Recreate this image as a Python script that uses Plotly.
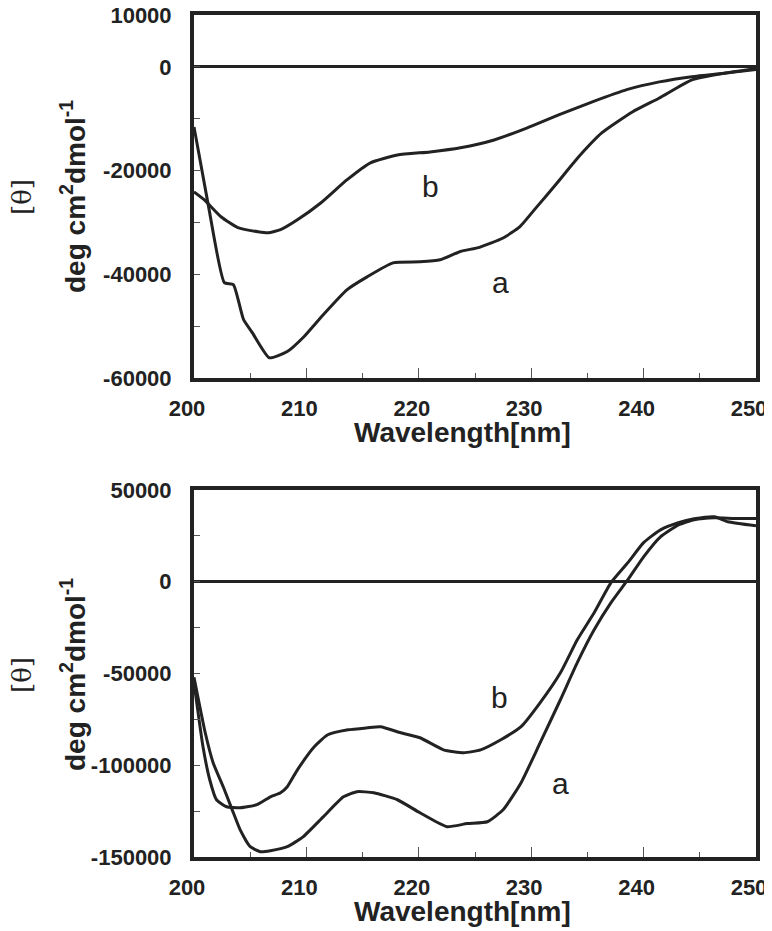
import plotly.graph_objects as go

# ---- data ----
top_wl_a = [200, 201.3, 202.7, 203.5, 204.4, 205.2, 206.7, 208.3, 209.8, 211.5, 213.6, 215.4, 217.7,
            220.1, 221.9, 223.7, 225.4, 227.5, 229.0, 230.5, 232.3, 234.0, 236.3, 239.0, 241.4,
            244.3, 247.3, 250]
top_a = [-11600, -27000, -41600, -42000, -48700, -51300, -56100, -54900, -52000, -47800, -43000,
         -40500, -37800, -37600, -37200, -35600, -34800, -33000, -30800, -27000, -22400, -17900,
         -12700, -8700, -6000, -2500, -1200, -300]

top_wl_b = [200, 200.9, 202.4, 203.9, 205.7, 206.6, 207.7, 209.2, 211.3, 213.6, 215.7, 218.1,
            221.0, 223.7, 226.7, 229.6, 232.5, 235.5, 238.5, 241.4, 244.3, 247.3, 250]
top_b = [-24100, -25600, -28900, -31000, -31800, -32000, -31400, -29500, -26200, -21800, -18500,
         -17000, -16400, -15600, -14100, -11800, -9200, -6700, -4400, -2900, -1900, -1200, -500]

bot_wl_a = [200, 201.0, 201.7, 202.6, 203.4, 204.1, 205.0, 205.9, 206.8, 208.3, 209.7, 211.5,
            213.3, 214.5, 216.0, 218.1, 220.1, 222.5, 224.3, 226.1, 227.5, 229.1, 230.8, 232.6,
            234.1, 235.6, 237.1, 238.6, 240.0, 241.5, 243.1, 244.5, 246.3, 248.1, 250]
bot_a = [-52000, -82300, -98600, -111700, -124300, -135100, -144400, -147100, -146600, -144400,
         -139000, -128100, -117200, -114400, -115000, -118800, -125900, -133500, -131800, -130800,
         -124300, -109500, -87700, -64300, -44100, -26200, -11400, 1100, 13600, 24500, 31000,
         33800, 34900, 34500, 34500]

bot_wl_b = [200, 200.8, 201.4, 202.0, 202.9, 204.1, 205.6, 206.8, 207.7, 208.3, 209.2, 210.7,
            211.9, 213.7, 215.4, 216.6, 218.4, 220.1, 222.2, 224.0, 225.5, 227.3, 229.1, 230.8,
            232.6, 234.1, 235.6, 237.1, 238.6, 240.0, 241.5, 243.1, 244.5, 246.3, 247.5, 250]
bot_b = [-55000, -89900, -107900, -118800, -122600, -123200, -121500, -117200, -115000, -111700,
         -102500, -89900, -83400, -80700, -79600, -79000, -82300, -85000, -91600, -93200, -91600,
         -86100, -79000, -65900, -49600, -31600, -16900, -500, 10400, 21300, 28300, 32200, 34300,
         35400, 32700, 30500]

top_yticks = [-60000, -40000, -20000, 0, 10000]
top_yminor = [-50000, -30000, -10000]
bot_yticks = [-150000, -100000, -50000, 0, 50000]
bot_yminor = [-125000, -75000, -25000, 25000]
x_ticks = [200, 210, 220, 230, 240, 250]

x_title = "Wavelength[nm]"
y_title_1 = "[θ]"
y_title_2 = "deg cm<sup>2</sup>dmol<sup>-1</sup>"

INK = "#222222"
FONT = "Liberation Sans"
OFF = 8                      # default page margin of the html body
W, H = 772 - OFF, 931 - OFF


def px(x):
    return (x - OFF) / W


def py(y):
    return 1 - (y - OFF) / H


fig = go.Figure()
line = dict(color=INK, width=3, shape="spline", smoothing=0.5)
fig.add_trace(go.Scatter(x=top_wl_a, y=top_a, mode="lines", line=line, xaxis="x", yaxis="y", showlegend=False))
fig.add_trace(go.Scatter(x=top_wl_b, y=top_b, mode="lines", line=line, xaxis="x", yaxis="y", showlegend=False))
fig.add_trace(go.Scatter(x=bot_wl_a, y=bot_a, mode="lines", line=line, xaxis="x2", yaxis="y2", showlegend=False))
fig.add_trace(go.Scatter(x=bot_wl_b, y=bot_b, mode="lines", line=line, xaxis="x2", yaxis="y2", showlegend=False))

xdom = [px(194), px(756)]
top_dom = [py(378), py(15)]
bot_dom = [py(857), py(490)]

tickfont = dict(family=FONT, size=22, color=INK, weight="bold")


def xaxis(anchor):
    return dict(domain=xdom, anchor=anchor, range=[200, 250], tickmode="array", tickvals=x_ticks,
                ticks="inside", ticklen=10, tickwidth=1, tickcolor="#555", showgrid=False, zeroline=False,
                showline=True, linewidth=4, linecolor=INK, mirror=True, tickfont=tickfont,
                ticklabelstandoff=8, ticklabelshift=-7, automargin=False, ticklabeloverflow="allow",
                minor=dict(tickmode="array", tickvals=[205, 215, 225, 235, 245], ticks="inside",
                           ticklen=5, tickwidth=1, tickcolor="#555", showgrid=False))


def yaxis(anchor, dom, rng, vals, minor):
    return dict(domain=dom, anchor=anchor, range=rng, tickmode="array", tickvals=vals,
                ticktext=[str(v) for v in vals], ticks="inside", ticklen=6, tickwidth=1, tickcolor="#555",
                showgrid=False, zeroline=True, zerolinewidth=3, zerolinecolor=INK,
                showline=True, linewidth=4, linecolor=INK, mirror=True, tickfont=tickfont,
                ticklabelstandoff=14, automargin=False, ticklabeloverflow="allow",
                minor=dict(tickmode="array", tickvals=minor, ticks="inside", ticklen=6, tickwidth=1,
                           tickcolor="#555", showgrid=False))


title_font = dict(family=FONT, size=28, color=INK, weight="bold")
theta_font = dict(family="DejaVu Serif", size=26, color=INK)
lab_font = dict(family=FONT, size=30, color=INK)

annotations = []
# x titles
for yc in (432, 911):
    annotations.append(dict(text=x_title, x=px(462), y=py(yc), xref="paper", yref="paper",
                            showarrow=False, font=title_font, xanchor="center", yanchor="middle"))
# y titles
for yc in (197, 675):
    annotations.append(dict(text=y_title_1, x=px(22), y=py(yc), xref="paper", yref="paper",
                            showarrow=False, font=theta_font, textangle=-90, xanchor="center", yanchor="middle"))
    annotations.append(dict(text=y_title_2, x=px(73), y=py(yc), xref="paper", yref="paper",
                            showarrow=False, font=title_font, textangle=-90, xanchor="center", yanchor="middle"))
# curve labels
annotations += [
    dict(text="b", x=221.0, y=-23000, xref="x", yref="y", showarrow=False, font=lab_font),
    dict(text="a", x=227.3, y=-41500, xref="x", yref="y", showarrow=False, font=lab_font),
    dict(text="b", x=227.2, y=-63000, xref="x2", yref="y2", showarrow=False, font=lab_font),
    dict(text="a", x=232.6, y=-110000, xref="x2", yref="y2", showarrow=False, font=lab_font),
]

fig.update_layout(
    width=W, height=H, margin=dict(l=0, r=0, t=0, b=0, autoexpand=False),
    paper_bgcolor="white", plot_bgcolor="white",
    xaxis=xaxis("y"),
    yaxis=yaxis("x", top_dom, [-60000, 10000], top_yticks, top_yminor),
    xaxis2=xaxis("y2"),
    yaxis2=yaxis("x2", bot_dom, [-150000, 50000], bot_yticks, bot_yminor),
    annotations=annotations,
    showlegend=False,
)

fig.write_html("out.html")
